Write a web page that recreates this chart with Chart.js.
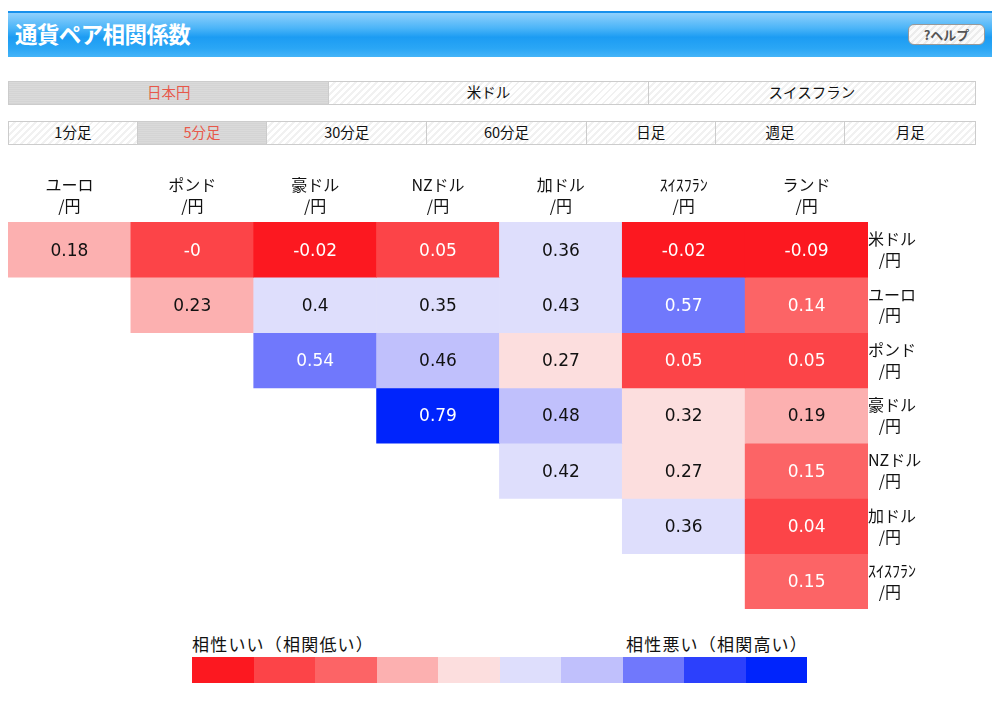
<!DOCTYPE html>
<html><head><meta charset="utf-8">
<script src="https://cdn.jsdelivr.net/npm/chart.js@4.4.0/dist/chart.umd.min.js"></script>
<style>
*{box-sizing:border-box;margin:0;padding:0}
body{width:1000px;height:707px;background:#fff;position:relative;overflow:hidden;font-family:"Noto Sans CJK JP","DejaVu Sans",sans-serif;color:#111}
#hdr{position:absolute;left:8px;top:11px;width:984px;height:46px;border-top:2px solid #1690ec;background:linear-gradient(#8fd0fc 0%,#4ab4f8 35%,#1c9cf3 55%,#2aa6f5 80%,#45b4f8 100%)}
#hdr .t{position:absolute;left:7px;top:4px;color:#fff;font-weight:bold;font-size:22.5px;letter-spacing:-0.6px}
#help{position:absolute;left:900px;top:11px;width:77px;height:21px;border-radius:6px;border:1px solid #999;background:repeating-linear-gradient(135deg,#fbfbfb 0 3px,#ececec 3px 5px);font-size:13px;font-weight:bold;color:#555;text-align:center;line-height:19px}
.tabs{position:absolute;left:8px;width:968px;height:24px;display:flex;border:1px solid #ccc}
.tab{height:100%;border-right:1px solid #ccc;text-align:center;font-size:14.5px;line-height:20px;background:repeating-linear-gradient(135deg,#fff 0 3px,#f1f1f1 3px 5px)}
.tab:last-child{border-right:none}
.tab.sel{background:repeating-linear-gradient(0deg,#d4d4d4 0 1px,#dadada 1px 2px);color:#e8584a}
#cwrap{position:absolute;left:0;top:160px;width:1000px;height:460px}
#leg{position:absolute;left:192px;top:632px;width:615px}
#leg .l{position:absolute;left:0;top:0;font-size:17px;line-height:24px;letter-spacing:1.2px}
#leg .r{position:absolute;right:-1px;top:0;font-size:17px;line-height:24px;letter-spacing:1.2px}
#bar{position:absolute;left:0;top:25px;width:615px;height:26px;display:flex}
#bar div{flex:1}
</style></head><body>
<div id="hdr"><div class="t">通貨ペア相関係数</div><div id="help">?ヘルプ</div></div>
<div class="tabs" style="top:81px">
 <div class="tab sel" style="width:321px">日本円</div>
 <div class="tab" style="width:320px">米ドル</div>
 <div class="tab" style="width:327px">スイスフラン</div>
</div>
<div class="tabs" style="top:121px">
 <div class="tab" style="width:129px">1分足</div>
 <div class="tab sel" style="width:130px">5分足</div>
 <div class="tab" style="width:160px">30分足</div>
 <div class="tab" style="width:160px">60分足</div>
 <div class="tab" style="width:129px">日足</div>
 <div class="tab" style="width:130px">週足</div>
 <div class="tab" style="width:130px">月足</div>
</div>
<div id="cwrap"><canvas id="c"></canvas></div>
<div id="leg"><div class="l">相性いい（相関低い）</div><div class="r">相性悪い（相関高い）</div><div id="bar"></div></div>
<script>
const colLabels = ["ユーロ","ポンド","豪ドル","NZドル","加ドル","ｽｲｽﾌﾗﾝ","ランド"];
const rowLabels = ["米ドル","ユーロ","ポンド","豪ドル","NZドル","加ドル","ｽｲｽﾌﾗﾝ"];
const rowUsd = [0.18, -0, -0.02, 0.05, 0.36, -0.02, -0.09];
const rowEur = [null, 0.23, 0.4, 0.35, 0.43, 0.57, 0.14];
const rowGbp = [null, null, 0.54, 0.46, 0.27, 0.05, 0.05];
const rowAud = [null, null, null, 0.79, 0.48, 0.32, 0.19];
const rowNzd = [null, null, null, null, 0.42, 0.27, 0.15];
const rowCad = [null, null, null, null, null, 0.36, 0.04];
const rowChf = [null, null, null, null, null, null, 0.15];
const rows = [rowUsd,rowEur,rowGbp,rowAud,rowNzd,rowCad,rowChf];
const palette = ["#fc1820","#fc4448","#fc6466","#fcb0b0","#fcdede","#dedefc","#c0c0fc","#7078fc","#2c40fc","#0024fc"];
const bounds = [-0.01,0.1,0.17,0.25,0.33,0.45,0.5,0.6,0.7];
function level(v){let i=0;while(i<bounds.length && v>=bounds[i])i++;return i;}
function fmt(v){return Object.is(v,-0)?"-0":String(v);}
const bar=document.getElementById('bar');
palette.forEach(c=>{const d=document.createElement('div');d.style.background=c;bar.appendChild(d);});

const datasets = rows.map((vals,r)=>({
  label: rowLabels[r],
  data: vals.map(v=> v===null? null : [r, r+1]),
  vals: vals,
  backgroundColor: vals.map(v=> v===null? 'rgba(0,0,0,0)' : palette[level(v)]),
  borderWidth: 0,
  grouped: false,
  barPercentage: 1,
  categoryPercentage: 1
}));

const cellText = {
  id:'cellText',
  afterDatasetsDraw(chart){
    const ctx=chart.ctx;
    ctx.save();
    ctx.font='17px "DejaVu Sans", sans-serif';
    ctx.textAlign='center';ctx.textBaseline='middle';
    chart.data.datasets.forEach((ds,di)=>{
      const meta=chart.getDatasetMeta(di);
      meta.data.forEach((el,i)=>{
        const v=ds.vals[i]; if(v===null) return;
        const lv=level(v);
        ctx.fillStyle=(lv<=2||lv>=7)?'#fff':'#111';
        const p=el.getProps(['x','y','base'],true);
        ctx.fillText(fmt(v), p.x, (p.y+p.base)/2+1.5);
      });
    });
    ctx.restore();
  }
};

new Chart(document.getElementById('c'),{
  type:'bar',
  data:{labels:colLabels,datasets},
  plugins:[cellText],
  options:{
    responsive:true,maintainAspectRatio:false,animation:false,
    layout:{padding:{left:8,top:0,right:0,bottom:11}},
    plugins:{legend:{display:false},tooltip:{enabled:false}},
    scales:{
      x:{position:'top',grid:{display:false,drawTicks:false},border:{display:false},
         ticks:{color:'#111',padding:5,font:{family:'"Noto Sans CJK JP"',size:16,lineHeight:1.35},maxRotation:0,
           callback:(v,i)=>[colLabels[i],'/円']},
         afterFit:a=>{a.height=62;a.paddingLeft=0;a.paddingRight=0;}},
      y:{position:'right',min:0,max:7,reverse:true,grid:{display:false,drawTicks:false},border:{display:false},
         afterBuildTicks:a=>{a.ticks=rowLabels.map((l,i)=>({value:i+0.5}));},
         ticks:{color:'#111',padding:0,crossAlign:'near',font:{family:'"Noto Sans CJK JP"',size:16,lineHeight:1.3},
           callback:(v,i)=>[rowLabels[i],'   /円']},
         afterFit:a=>{a.width=132;a.paddingTop=0;a.paddingBottom=0;}}
    }
  }
});
</script>
</body></html>
